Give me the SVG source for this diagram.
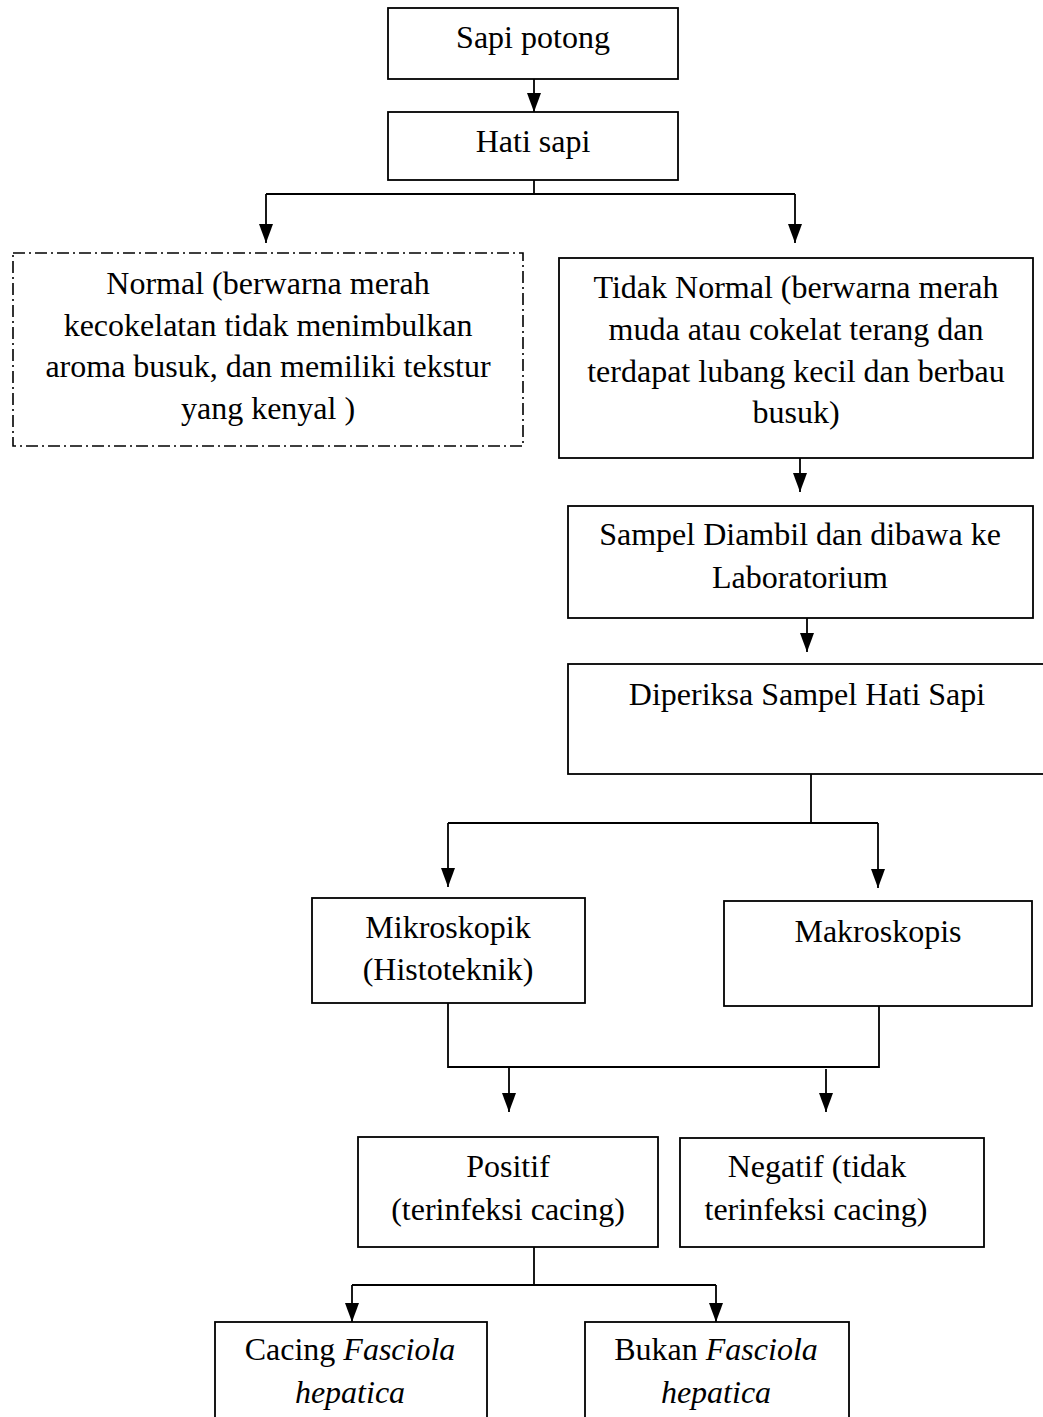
<svg xmlns="http://www.w3.org/2000/svg" width="1043" height="1417" viewBox="0 0 1043 1417">
<style>
.box{fill:#fff;stroke:#000;stroke-width:1.8}
.dash{fill:#fff;stroke:#000;stroke-width:1.6;stroke-dasharray:12 4 2 4}
.t{font-family:"Liberation Serif","Times New Roman",serif;font-size:32px;fill:#000;text-anchor:middle}
.i{font-style:italic}
.c{fill:none;stroke:#000;stroke-width:1.8}
</style>
<defs>
<marker id="ah" markerUnits="userSpaceOnUse" markerWidth="20" markerHeight="16" refX="19" refY="8" orient="auto" viewBox="0 0 20 16">
<path d="M0,1 L19,8 L0,15 z" fill="#000"/>
</marker>
</defs>
<rect width="1043" height="1417" fill="#fff"/>
<g id="connectors">
<line class="c" x1="534" y1="79" x2="534" y2="112" marker-end="url(#ah)"/>
<polyline class="c" points="534,180 534,194"/>
<polyline class="c" points="266,194 795,194"/>
<line class="c" x1="266" y1="194" x2="266" y2="243" marker-end="url(#ah)"/>
<line class="c" x1="795" y1="194" x2="795" y2="243" marker-end="url(#ah)"/>
<line class="c" x1="800" y1="458" x2="800" y2="492" marker-end="url(#ah)"/>
<line class="c" x1="807" y1="618" x2="807" y2="652" marker-end="url(#ah)"/>
<polyline class="c" points="811,774 811,823"/>
<polyline class="c" points="448,823 878,823"/>
<line class="c" x1="448" y1="823" x2="448" y2="887" marker-end="url(#ah)"/>
<line class="c" x1="878" y1="823" x2="878" y2="888" marker-end="url(#ah)"/>
<polyline class="c" points="448,1003 448,1067 879,1067 879,1006"/>
<line class="c" x1="509" y1="1068" x2="509" y2="1112" marker-end="url(#ah)"/>
<line class="c" x1="826" y1="1069" x2="826" y2="1112" marker-end="url(#ah)"/>
<polyline class="c" points="534,1247 534,1285"/>
<polyline class="c" points="352,1285 716,1285"/>
<line class="c" x1="352" y1="1285" x2="352" y2="1322" marker-end="url(#ah)"/>
<line class="c" x1="716" y1="1285" x2="716" y2="1322" marker-end="url(#ah)"/>
</g>
<g id="sapi-potong">
<rect class="box" x="388" y="8" width="290" height="71"/>
<text class="t" x="533" y="48">Sapi potong</text>
</g>
<g id="hati-sapi">
<rect class="box" x="388" y="112" width="290" height="68"/>
<text class="t" x="533" y="152">Hati sapi</text>
</g>
<g id="normal">
<rect class="dash" x="13" y="253" width="510" height="193"/>
<text class="t" x="268" y="294">Normal (berwarna merah</text>
<text class="t" x="268" y="335.5">kecokelatan tidak menimbulkan</text>
<text class="t" x="268" y="377">aroma busuk, dan memiliki tekstur</text>
<text class="t" x="268" y="418.5">yang kenyal )</text>
</g>
<g id="tidak-normal">
<rect class="box" x="559" y="258" width="474" height="200"/>
<text class="t" x="796" y="298">Tidak Normal (berwarna merah</text>
<text class="t" x="796" y="340">muda atau cokelat terang dan</text>
<text class="t" x="796" y="382">terdapat lubang kecil dan berbau</text>
<text class="t" x="796" y="423">busuk)</text>
</g>
<g id="sampel">
<rect class="box" x="568" y="506" width="465" height="112"/>
<text class="t" x="800" y="545">Sampel Diambil dan dibawa ke</text>
<text class="t" x="800" y="588">Laboratorium</text>
</g>
<g id="diperiksa">
<rect class="box" x="568" y="664" width="480" height="110"/>
<text class="t" x="807" y="705">Diperiksa Sampel Hati Sapi</text>
</g>
<g id="mikroskopik">
<rect class="box" x="312" y="898" width="273" height="105"/>
<text class="t" x="448" y="938">Mikroskopik</text>
<text class="t" x="448" y="980">(Histoteknik)</text>
</g>
<g id="makroskopis">
<rect class="box" x="724" y="901" width="308" height="105"/>
<text class="t" x="878" y="942">Makroskopis</text>
</g>
<g id="positif">
<rect class="box" x="358" y="1137" width="300" height="110"/>
<text class="t" x="508" y="1177">Positif</text>
<text class="t" x="508" y="1220">(terinfeksi cacing)</text>
</g>
<g id="negatif">
<rect class="box" x="680" y="1138" width="304" height="109"/>
<text class="t" x="817" y="1177">Negatif (tidak</text>
<text class="t" x="816" y="1220">terinfeksi cacing)</text>
</g>
<g id="cacing-fasciola">
<rect class="box" x="215" y="1322" width="272" height="110"/>
<text class="t" x="350" y="1360">Cacing <tspan class="i">Fasciola</tspan></text>
<text class="t i" x="350" y="1403">hepatica</text>
</g>
<g id="bukan-fasciola">
<rect class="box" x="585" y="1322" width="264" height="110"/>
<text class="t" x="716" y="1360">Bukan <tspan class="i">Fasciola</tspan></text>
<text class="t i" x="716" y="1403">hepatica</text>
</g>
</svg>
